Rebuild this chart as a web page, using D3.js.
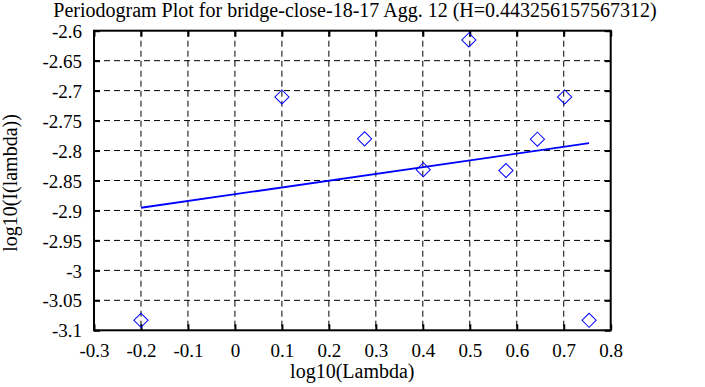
<!DOCTYPE html>
<html><head><meta charset="utf-8">
<script src="https://cdn.jsdelivr.net/npm/d3@7"></script>
<style>
html,body{margin:0;padding:0;background:#fff;}
</style></head>
<body><svg id="c" width="705" height="387"></svg>
<script>
const titleText = "Periodogram Plot for bridge-close-18-17 Agg. 12 (H=0.443256157567312)";
const xLabel = "log10(Lambda)";
const yLabel = "log10(I(lambda))";
const logLambda = [-0.2, 0.1, 0.276, 0.401, 0.498, 0.577, 0.644, 0.702, 0.754];
const logI = [-3.0833, -2.7105, -2.7805, -2.832, -2.6155, -2.8333, -2.781, -2.7105, -3.0833];
const fitX = [-0.2, 0.754];
const fitY = [-2.8955, -2.7877];
const xTicks = [-0.3, -0.2, -0.1, 0, 0.1, 0.2, 0.3, 0.4, 0.5, 0.6, 0.7, 0.8];
const yTicks = [-2.6, -2.65, -2.7, -2.75, -2.8, -2.85, -2.9, -2.95, -3, -3.05, -3.1];

const FONT = "'Liberation Serif', 'Times New Roman', serif";
const svg = d3.select("#c");
const L = 94, R = 610.7, T = 30.7, B = 330.3;
const x = d3.scaleLinear().domain([-0.3, 0.8]).range([L, R]);
const y = d3.scaleLinear().domain([-3.1, -2.6]).range([B, T]);
const fs = 19, fsT = 20;

const g = svg.append("g");
g.selectAll("line.vg").data(xTicks.slice(1, -1)).enter().append("line")
  .attr("x1", d => x(d)).attr("x2", d => x(d)).attr("y1", T).attr("y2", B)
  .attr("stroke", "#000").attr("stroke-width", 1).attr("stroke-dasharray", "6,4");
g.selectAll("line.hg").data(yTicks.slice(1, -1)).enter().append("line")
  .attr("y1", d => y(d)).attr("y2", d => y(d)).attr("x1", L).attr("x2", R)
  .attr("stroke", "#000").attr("stroke-width", 1).attr("stroke-dasharray", "6,4");

const tf = d => String(+d.toFixed(2));
const ax = svg.append("g").attr("transform", `translate(0,${B})`)
  .call(d3.axisBottom(x).tickValues(xTicks).tickSizeInner(-6).tickSizeOuter(0).tickPadding(13).tickFormat(tf));
const axT = svg.append("g").attr("transform", `translate(0,${T})`)
  .call(d3.axisTop(x).tickValues(xTicks).tickSizeInner(-6).tickSizeOuter(0).tickFormat(""));
const ay = svg.append("g").attr("transform", `translate(${L},0)`)
  .call(d3.axisLeft(y).tickValues(yTicks).tickSizeInner(-6).tickSizeOuter(0).tickPadding(12).tickFormat(tf));
const ayR = svg.append("g").attr("transform", `translate(${R},0)`)
  .call(d3.axisRight(y).tickValues(yTicks).tickSizeInner(-6).tickSizeOuter(0).tickFormat(""));
[ax, axT, ay, ayR].forEach(a => {
  a.attr("font-family", FONT).attr("font-size", fs);
  a.select(".domain").remove();
  a.selectAll(".tick line").attr("stroke", "#000").attr("stroke-width", 2);
  a.selectAll("text").style("font-family", FONT).style("font-size", fs + "px").attr("fill", "#000");
});
ay.selectAll("text").attr("dy", "0.35em");

svg.append("rect").attr("x", L).attr("y", T).attr("width", R - L).attr("height", B - T)
  .attr("fill", "none").attr("stroke", "#000").attr("stroke-width", 2);

svg.append("line").attr("x1", x(fitX[0])).attr("y1", y(fitY[0]))
  .attr("x2", x(fitX[1])).attr("y2", y(fitY[1]))
  .attr("stroke", "#0000ff").attr("stroke-width", 1.8);

const sym = d3.symbol().type(d3.symbolSquare).size(100);
svg.selectAll("path.pt").data(logLambda).enter().append("path")
  .attr("d", sym)
  .attr("transform", (d, i) => `translate(${x(d)},${y(logI[i])}) rotate(45)`)
  .attr("fill", "none").attr("stroke", "#0000ff").attr("stroke-width", 1);

const lbl = (sel) => sel.style("font-family", FONT).style("font-size", fsT + "px").attr("fill", "#000");
svg.append("text").attr("x", 355).attr("y", 17).attr("text-anchor", "middle")
  .call(lbl).text(titleText);
svg.append("text").attr("x", 352.3).attr("y", 378).attr("text-anchor", "middle")
  .call(lbl).text(xLabel);
svg.append("text").attr("transform", `translate(17,183) rotate(-90)`).attr("text-anchor", "middle")
  .call(lbl).text(yLabel);
</script></body></html>
